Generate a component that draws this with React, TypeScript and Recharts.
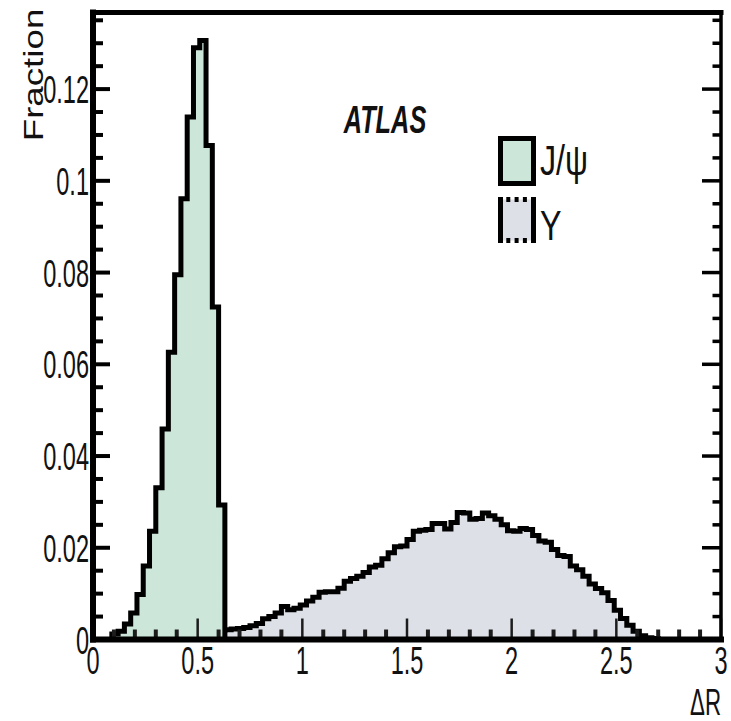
import React from 'react';
import { ComposedChart, Area, XAxis, YAxis, Legend, ReferenceLine } from 'recharts';

// ΔR between the two muons, 100 bins of width 0.03 from 0 to 3
const BIN_WIDTH = 0.03;

const jpsiFraction = [
  0, 0, 0, 0.0012, 0.0018, 0.0034, 0.0058, 0.0098, 0.016, 0.0236,
  0.0331, 0.0459, 0.0626, 0.0795, 0.0961, 0.1139, 0.129, 0.1306, 0.1077, 0.0725,
  0.0293, 0, 0, 0, 0, 0, 0, 0, 0, 0,
  0, 0, 0, 0, 0, 0, 0, 0, 0, 0,
  0, 0, 0, 0, 0, 0, 0, 0, 0, 0,
  0, 0, 0, 0, 0, 0, 0, 0, 0, 0,
  0, 0, 0, 0, 0, 0, 0, 0, 0, 0,
  0, 0, 0, 0, 0, 0, 0, 0, 0, 0,
  0, 0, 0, 0, 0, 0, 0, 0, 0, 0,
  0, 0, 0, 0, 0, 0, 0, 0, 0, 0,
];

const upsilonFraction = [
  0, 0, 0, 0, 0, 0, 0, 0, 0, 0,
  0.0003, 0.0005, 0.0007, 0.0009, 0.001, 0.0012, 0.0014, 0.0016, 0.0018, 0.0019,
  0.002, 0.0021, 0.0023, 0.0024, 0.0026, 0.003, 0.0035, 0.0045, 0.005, 0.0058,
  0.0072, 0.0065, 0.0068, 0.0075, 0.0084, 0.0092, 0.0103, 0.0104, 0.0104, 0.0112,
  0.0127, 0.0133, 0.0138, 0.0146, 0.0158, 0.0162, 0.0176, 0.0189, 0.0202, 0.0204,
  0.0218, 0.0236, 0.0238, 0.024, 0.0253, 0.0253, 0.0241, 0.0255, 0.0277, 0.0276,
  0.0262, 0.0264, 0.0276, 0.027, 0.0262, 0.025, 0.0237, 0.0236, 0.0242, 0.024,
  0.0227, 0.0215, 0.0212, 0.0196, 0.0183, 0.0181, 0.016, 0.0152, 0.0138, 0.0121,
  0.0111, 0.0102, 0.0085, 0.0064, 0.0046, 0.0031, 0.0018, 0.0008, 0.0004, 0.0002,
  0, 0, 0, 0, 0, 0, 0, 0, 0, 0,
];

const xTicks = [
  0, 0.1, 0.2, 0.3, 0.4, 0.5, 0.6, 0.7, 0.8, 0.9, 1, 1.1, 1.2, 1.3, 1.4, 1.5,
  1.6, 1.7, 1.8, 1.9, 2, 2.1, 2.2, 2.3, 2.4, 2.5, 2.6, 2.7, 2.8, 2.9, 3,
];
const yTicks = [
  0, 0.005, 0.01, 0.015, 0.02, 0.025, 0.03, 0.035, 0.04, 0.045, 0.05, 0.055, 0.06, 0.065,
  0.07, 0.075, 0.08, 0.085, 0.09, 0.095, 0.1, 0.105, 0.11, 0.115, 0.12, 0.125, 0.13, 0.135,
];
const X_LABEL_STEP = 0.5;
const Y_LABEL_STEP = 0.02;
const X_MAX = 3;
const Y_MAX = 0.1367;

const histData = [
  ...jpsiFraction.map((v, i) => ({
    dR: +(i * BIN_WIDTH).toFixed(2),
    jpsi: v,
    ups: upsilonFraction[i],
  })),
  { dR: 3, jpsi: 0, ups: 0 },
];

const WIDTH = 731;
const HEIGHT = 721;
const MARGIN = { top: 11.5, right: 9, bottom: 80.5, left: 92 };
// plot box size (each axis reserves 1px)
const PLOT_W = WIDTH - MARGIN.left - MARGIN.right - 2;
const PLOT_H = HEIGHT - MARGIN.top - MARGIN.bottom - 2;
const X_PER_PX = X_MAX / PLOT_W;
const Y_PER_PX = Y_MAX / PLOT_H;

const FONT = "'Liberation Sans', Arial, sans-serif";
const NARROW = 0.62;
const JPSI_FILL = '#cce6d9';
const UPS_FILL = '#dde1e7';

const isMajor = (v: number, step: number) => Math.abs(v / step - Math.round(v / step)) < 1e-6;

function BottomLabel({ x, y, payload }: any) {
  if (!isMajor(payload.value, X_LABEL_STEP)) return <g />;
  return (
    <text
      transform={`translate(${x},${y + 34.5}) scale(${NARROW},1)`}
      textAnchor="middle"
      fontFamily={FONT}
      fontSize={38}
      fill="#111"
    >
      {String(payload.value)}
    </text>
  );
}

function LeftLabel({ x, y, payload }: any) {
  if (!isMajor(payload.value, Y_LABEL_STEP)) return <g />;
  return (
    <text
      transform={`translate(${x - 4},${y + 14}) scale(${NARROW},1)`}
      textAnchor="end"
      fontFamily={FONT}
      fontSize={38}
      fill="#111"
    >
      {String(payload.value)}
    </text>
  );
}

// inward tick marks on all four sides of the frame (lengths in px)
function frameTicks() {
  const marks: React.ReactElement[] = [];
  xTicks.forEach((v) => {
    const major = isMajor(v, X_LABEL_STEP);
    const lenB = (major ? 21 : 10) * Y_PER_PX;
    const lenT = (major ? 22 : 12) * Y_PER_PX;
    marks.push(
      <ReferenceLine
        key={`bottom-${v}`}
        segment={[{ x: v, y: 0 }, { x: v, y: lenB }]}
        stroke="#1c1c1c"
        strokeWidth={major ? 2.5 : 4}
        ifOverflow="visible"
      />,
      // top edge uses the secondary axes so it sits on the upper frame line
      <ReferenceLine
        key={`top-${v}`}
        xAxisId="top"
        yAxisId="right"
        segment={[{ x: v, y: Y_MAX }, { x: v, y: Y_MAX - lenT }]}
        stroke="#000"
        strokeWidth={3}
        ifOverflow="visible"
      />,
    );
  });
  yTicks.forEach((v) => {
    const major = isMajor(v, Y_LABEL_STEP);
    const lenL = (major ? 17 : 10) * X_PER_PX;
    const lenR = (major ? 19 : 8.5) * X_PER_PX;
    marks.push(
      <ReferenceLine
        key={`left-${v}`}
        segment={[{ x: 0, y: v }, { x: lenL, y: v }]}
        stroke="#000"
        strokeWidth={4}
        ifOverflow="visible"
      />,
      <ReferenceLine
        key={`right-${v}`}
        segment={[{ x: X_MAX, y: v }, { x: X_MAX - lenR, y: v }]}
        stroke="#000"
        strokeWidth={3.5}
        ifOverflow="visible"
      />,
    );
  });
  return marks;
}

const fractionTitle = () => (
  <text
    transform="translate(43,75) rotate(-90) scale(1.36,1)"
    textAnchor="middle"
    fontFamily={FONT}
    fontSize={27}
    fill="#111"
  >
    Fraction
  </text>
);

const deltaRTitle = () => (
  <text
    transform={`translate(721,715) scale(${NARROW},1)`}
    textAnchor="end"
    fontFamily={FONT}
    fontSize={36}
    fill="#111"
  >
    ΔR
  </text>
);

// ATLAS tag plus the two boxed entries, laid over the whole chart
function renderLegend({ payload }: any) {
  const jpsi = payload?.find((p: any) => p.dataKey === 'jpsi');
  const ups = payload?.find((p: any) => p.dataKey === 'ups');
  return (
    <svg width={WIDTH} height={HEIGHT} style={{ position: 'absolute', left: 0, top: 0, pointerEvents: 'none' }}>
      <text
        transform="translate(385,133) scale(0.65,1)"
        textAnchor="middle"
        fontFamily={FONT}
        fontSize={39}
        fontWeight="bold"
        fontStyle="italic"
        fill="#111"
      >
        ATLAS
      </text>

      <rect x={500.5} y={138.5} width={33} height={45} fill={JPSI_FILL} stroke="#000" strokeWidth={5} />
      <text transform="translate(540,175) scale(0.75,1)" fontFamily={FONT} fontSize={43} fill="#111">
        {jpsi?.value ?? 'J/ψ'}
      </text>

      <rect x={500.5} y={199.5} width={33} height={41} fill={UPS_FILL} />
      <rect x={498} y={197} width={5} height={46} fill="#000" />
      <rect x={531} y={197} width={5} height={46} fill="#000" />
      <path d="M498 199.5H536M498 240.5H536" stroke="#000" strokeWidth={5} strokeDasharray="4 4.3" />
      <text transform="translate(540,240) scale(0.75,1)" fontFamily={FONT} fontSize={43} fill="#111">
        {ups?.value ?? 'Υ'}
      </text>
    </svg>
  );
}

export default function App() {
  return (
    <div style={{ position: 'absolute', left: 0, top: 0, width: WIDTH, height: HEIGHT, background: '#fff' }}>
      <ComposedChart width={WIDTH} height={HEIGHT} data={histData} margin={MARGIN}>
        <XAxis
          dataKey="dR"
          type="number"
          domain={[0, X_MAX]}
          ticks={xTicks}
          interval={0}
          height={1}
          tickSize={0}
          tickMargin={0}
          tickLine={false}
          axisLine={false}
          tick={BottomLabel}
          label={deltaRTitle}
        />
        <XAxis
          xAxisId="top"
          orientation="top"
          dataKey="dR"
          type="number"
          domain={[0, X_MAX]}
          height={1}
          tick={false}
          tickLine={false}
          axisLine={false}
        />
        <YAxis
          type="number"
          domain={[0, Y_MAX]}
          ticks={yTicks}
          interval={0}
          width={1}
          tickSize={0}
          tickMargin={0}
          tickLine={false}
          axisLine={false}
          tick={LeftLabel}
          label={fractionTitle}
        />
        <YAxis
          yAxisId="right"
          orientation="right"
          type="number"
          domain={[0, Y_MAX]}
          width={1}
          tick={false}
          tickLine={false}
          axisLine={false}
        />
        <Area
          dataKey="ups"
          name="Υ"
          type="stepAfter"
          stroke="#000"
          strokeWidth={5}
          fill={UPS_FILL}
          fillOpacity={1}
          isAnimationActive={false}
        />
        <Area
          dataKey="jpsi"
          name="J/ψ"
          type="stepAfter"
          stroke="#000"
          strokeWidth={5}
          fill={JPSI_FILL}
          fillOpacity={1}
          isAnimationActive={false}
        />
        {frameTicks()}
        {/* plot frame */}
        <ReferenceLine y={0} stroke="#000" strokeWidth={6} strokeLinecap="square" ifOverflow="visible" />
        <ReferenceLine y={Y_MAX} stroke="#000" strokeWidth={5} strokeLinecap="square" ifOverflow="visible" />
        <ReferenceLine x={0} stroke="#000" strokeWidth={6} strokeLinecap="square" ifOverflow="visible" />
        <ReferenceLine x={X_MAX} stroke="#000" strokeWidth={3.5} strokeLinecap="square" ifOverflow="visible" />
        <Legend
          layout="horizontal"
          align="center"
          verticalAlign="middle"
          content={renderLegend}
          wrapperStyle={{ left: 0, top: 0, width: WIDTH, height: HEIGHT, pointerEvents: 'none' }}
        />
      </ComposedChart>
    </div>
  );
}
